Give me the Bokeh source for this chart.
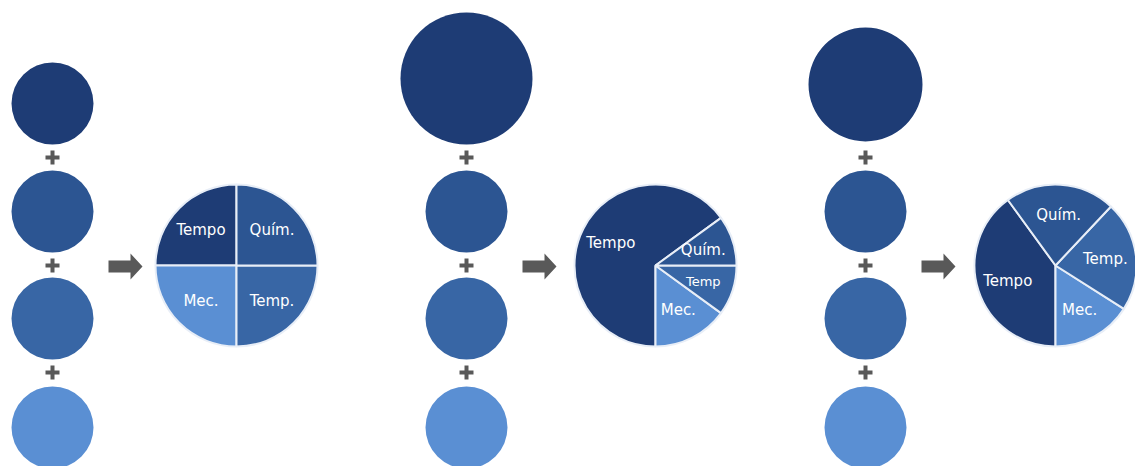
import math

from bokeh.core.properties import value
from bokeh.embed import file_html
from bokeh.models import Range1d
from bokeh.plotting import figure
from bokeh.resources import INLINE

# ---- data -------------------------------------------------------------
criteria = ["Tempo", "Quím.", "Temp.", "Mec."]
weights_a = [25, 25, 25, 25]
weights_b = [65, 10, 10, 15]
weights_c = [40, 22, 22, 16]
labels_a = ["Tempo", "Quím.", "Temp.", "Mec."]
labels_b = ["Tempo", "Quím.", "Temp", "Mec."]
labels_c = ["Tempo", "Quím.", "Temp.", "Mec."]

# ---- layout & style (pixel coordinates, y measured from the top) ------
W, H = 1135, 466
colors = {"Tempo": "#1e3c75", "Quím.": "#2c5592", "Temp.": "#3866a5", "Mec.": "#5a8fd3"}
grey = "#595959"

col_x = [52, 466, 865]          # x of the column of circles
top_r = [41, 66, 57]            # radius of the first circle of each column
top_y = [103, 78, 84]           # y of the first circle of each column
small_r = 41
small_y = [211, 318, 427]       # y of the remaining three circles
plus_y = [157, 265, 372]
arrow_x = [108, 522, 921]
arrow_y = 266
pie_x = [236, 655, 1055]
pie_y = 265
pie_r = 81
tempo_end = [180, 270, 270]     # angle (deg) where the Tempo slice ends
ccw_order = ["Tempo", "Mec.", "Temp.", "Quím."]
label_font_px = [[15, 15, 15, 15], [15, 15, 13, 15], [15, 15, 15, 15]]
label_dist = 0.62               # label distance from the centre, fraction of radius


def Y(y):
    return H - y


p = figure(width=W, height=H, output_backend="svg", toolbar_location=None,
           x_range=Range1d(0, W), y_range=Range1d(0, H), min_border=0)
p.axis.visible = False
p.grid.visible = False
p.outline_line_color = None
p.background_fill_color = "white"
p.border_fill_color = "white"

panels = [(weights_a, labels_a), (weights_b, labels_b), (weights_c, labels_c)]

for i, (weights, labels) in enumerate(panels):
    w = dict(zip(criteria, weights))
    lab = dict(zip(criteria, labels))
    fsize = dict(zip(criteria, label_font_px[i]))

    # column of criterion circles joined by plus signs
    xs = [col_x[i]] * 4
    ys = [Y(top_y[i])] + [Y(v) for v in small_y]
    rs = [top_r[i]] + [small_r] * 3
    p.circle(x=xs, y=ys, radius=rs, fill_color=[colors[c] for c in criteria],
             line_color=None)
    for py in plus_y:
        p.rect(x=col_x[i], y=Y(py), width=14, height=4, fill_color=grey, line_color=None)
        p.rect(x=col_x[i], y=Y(py), width=4, height=14, fill_color=grey, line_color=None)

    # block arrow
    x0 = arrow_x[i]
    ax = [x0, x0 + 22, x0 + 22, x0 + 34, x0 + 22, x0 + 22, x0]
    ay = [arrow_y - 6, arrow_y - 6, arrow_y - 13, arrow_y, arrow_y + 13, arrow_y + 6, arrow_y + 6]
    p.patch(x=ax, y=[Y(v) for v in ay], fill_color=grey, line_color=None)

    # resulting pie
    total = float(sum(weights))
    start = tempo_end[i] - 360.0 * w["Tempo"] / total
    a = start
    for c in ccw_order:
        span = 360.0 * w[c] / total
        s, e = math.radians(a), math.radians(a + span)
        p.wedge(x=pie_x[i], y=Y(pie_y), radius=pie_r, start_angle=s, end_angle=e,
                fill_color=colors[c], line_color="#e8eef7", line_width=2)
        mid = (s + e) / 2
        lx = pie_x[i] + label_dist * pie_r * math.cos(mid)
        ly = Y(pie_y) + label_dist * pie_r * math.sin(mid)
        p.text(x=[lx], y=[ly], text=[lab[c]], text_color="white",
               text_font=value("DejaVu Sans"), text_font_size=f"{fsize[c]}px",
               text_align="center", text_baseline="middle")
        a += span

open("out.html", "w").write(file_html(p, INLINE))
